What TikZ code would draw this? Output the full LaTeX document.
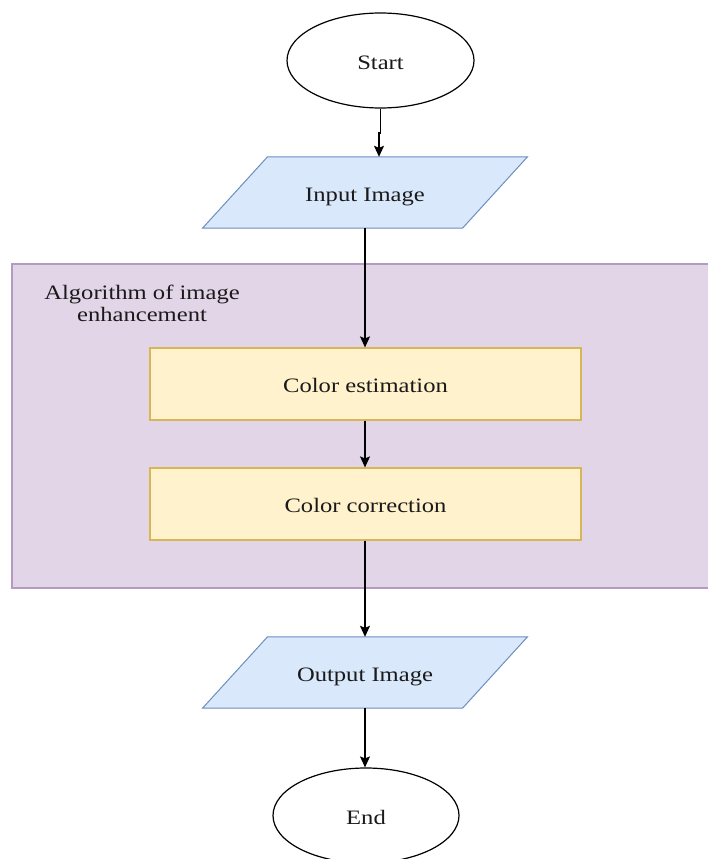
\documentclass[tikz,border=0pt]{standalone}
\usepackage{fontspec}
\setmainfont[FakeStretch=1.2]{Liberation Serif}
\usetikzlibrary{shapes.geometric,arrows.meta}
\definecolor{blueFill}{HTML}{DAE8FC}
\definecolor{blueLine}{HTML}{6C8EBF}
\definecolor{yelFill}{HTML}{FFF2CC}
\definecolor{yelLine}{HTML}{D6B656}
\definecolor{purFill}{HTML}{E1D5E7}
\definecolor{purLine}{HTML}{B39BC4}
\definecolor{txt}{HTML}{1A1A1A}
\tikzset{
  lbl/.style={font=\fontsize{20.5}{22}\selectfont, text=txt},
  clbl/.style={lbl, text height=19pt, text depth=1.4pt},
  term/.style={ellipse, draw=black, line width=1.2pt, fill=white, inner sep=0pt, clbl},
  iobox/.style={rectangle, inner sep=0pt, minimum width=259pt, minimum height=71pt},
  para/.style={draw=blueLine, fill=blueFill, line width=1pt},
  procbox/.style={rectangle, draw=yelLine, fill=yelFill, line width=1.2pt, inner sep=0pt, minimum width=431pt, minimum height=72pt, clbl},
  groupbox/.style={draw=purLine, fill=purFill, line width=1.6pt},
  arr/.style={draw=black, line width=1.3pt, -{Stealth[length=11pt,width=10pt,inset=2pt]}}
}
\begin{document}
\begin{tikzpicture}[x=1pt,y=-1pt]
\useasboundingbox (0,0) rectangle (708,859);
\begin{scope}
\clip (0,0) rectangle (708,859);
% group background
\draw[groupbox] (12,264) rectangle (730,588);
\node[lbl, align=center] (grouptitle) at (142,303.5) {Algorithm of image\\enhancement};

% nodes
\node[term, minimum width=187pt, minimum height=95pt] (start) at (380.5,60.5) {Start};

\node[iobox] (input) at (365,192.5) {};
\draw[para] ([xshift=-97.5pt]input.north) -- ([xshift=162.5pt]input.north) -- ([xshift=97.5pt]input.south) -- ([xshift=-162.5pt]input.south) -- cycle;
\node[clbl] (inputtext) at (input) {Input Image};

\node[procbox] (est) at (365.5,384) {Color estimation};
\node[procbox] (corr) at (365.5,504) {Color correction};

\node[iobox] (output) at (365,672.5) {};
\draw[para] ([xshift=-97.5pt]output.north) -- ([xshift=162.5pt]output.north) -- ([xshift=97.5pt]output.south) -- ([xshift=-162.5pt]output.south) -- cycle;
\node[clbl] (outputtext) at (output) {Output Image};

\node[term, minimum width=186pt, minimum height=95pt] (end) at (366,815.5) {End};

% connectors
\coordinate (j1) at (379,133);
\draw[arr] (start.south) |- (j1) -- (j1 |- input.north);
\draw[arr] (input.south) -- (input.south |- est.north);
\draw[arr] (input.south |- est.south) -- (input.south |- corr.north);
\draw[arr] (input.south |- corr.south) -- (output.north);
\draw[arr] (output.south) -- (output.south |- end.north);
\end{scope}
\end{tikzpicture}
\end{document}
